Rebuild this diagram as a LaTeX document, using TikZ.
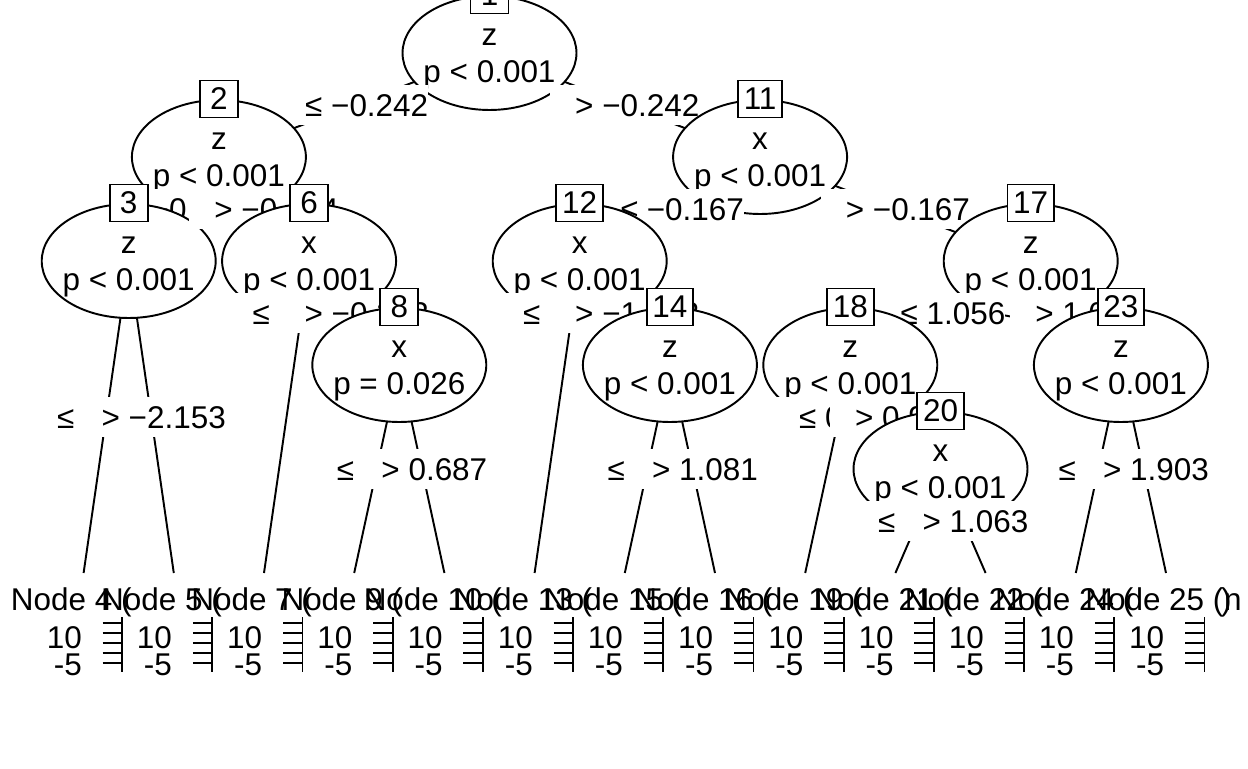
\documentclass[tikz,border=0pt]{standalone}
\usepackage{fontspec}
\setmainfont{Liberation Sans}
\usetikzlibrary{calc,shapes.geometric}

\tikzset{
  splitshape/.style={draw, ellipse, fill=white, line width=1.1pt, inner sep=0pt,
    minimum width=3.48cm, minimum height=2.28cm},
  nodeid/.style={draw, fill=white, line width=1.1pt, inner xsep=0.115cm, inner ysep=0pt,
    minimum width=0.76cm, minimum height=0.74cm},
  cutlabel/.style={fill=white, inner sep=0pt, text height=0.62cm, text depth=0.18cm},
  branch/.style={line width=1.1pt},
  nodetitle/.style={anchor=base west, inner sep=0pt},
  ticklab/.style={anchor=base east, inner sep=0pt}
}

% split node: name, variable, p-value, id
\newcommand{\splitnode}[4]{%
  \node[splitshape] (n#1) at (c#1) {};
  \node[anchor=base, inner sep=0pt] (v#1) at ($(c#1)+(0,-8)$) {#2};
  \node[anchor=base, inner sep=0pt] (p#1) at ($(c#1)+(0,29)$) {#3};
  \node[nodeid] (id#1) at ($(c#1)+(0,-58)$) {#4};
}

\begin{document}
\begin{tikzpicture}[x=0.02cm, y=-0.02cm, font=\fontsize{17.9}{21.5}\selectfont]
  \useasboundingbox (0,0) rectangle (1248,768);

  % centres of the split nodes
  \coordinate (c1) at (489.5,53);
  \coordinate (c2) at (218.9,157);
  \coordinate (c3) at (128.7,261);
  \coordinate (c6) at (309.1,261);
  \coordinate (c8) at (399.3,365);
  \coordinate (c11) at (760.1,157);
  \coordinate (c12) at (579.7,261);
  \coordinate (c14) at (669.9,365);
  \coordinate (c17) at (1030.7,261);
  \coordinate (c18) at (850.3,365);
  \coordinate (c20) at (940.5,469);
  \coordinate (c23) at (1120.9,365);
  % tops of the terminal panels
  \foreach \k [count=\i from 0] in {4,5,7,9,10,13,15,16,19,21,22,24,25}
    \coordinate (t\k) at ({83.6+90.2*\i},573);

  % Nodo 1
  \draw[branch] (c1) -- (c2);
  \draw[branch] (c1) -- (c11);
  \splitnode{1}{z}{p < 0.001}{1}
  \node[cutlabel] (l1a) at ($(c1)!0.5!(c2)$) {\hspace*{0.5cm}≤ −0.242};

  % Nodo 2
  \draw[branch] (c2) -- (c3);
  \draw[branch] (c2) -- (c6);
  \splitnode{2}{z}{p < 0.001}{2}
  \node[cutlabel] (l2a) at ($(c2)!0.5!(c3)$) {\hspace*{0.5cm}≤ −0.414};
  \draw[branch] (c3) -- (t4);
  \draw[branch] (c3) -- (t5);
  \splitnode{3}{z}{p < 0.001}{3}
  \node[cutlabel] (l3a) at ($(c3)!0.5!(t4)$) {\hspace*{0.5cm}≤ −2.153};
  \node[cutlabel] (l3b) at ($(c3)!0.5!(t5)$) {\hspace*{0.5cm}> −2.153};
  \node[cutlabel] (l2b) at ($(c2)!0.5!(c6)$) {\hspace*{0.5cm}> −0.414};
  \draw[branch] (c6) -- (t7);
  \draw[branch] (c6) -- (c8);
  \splitnode{6}{x}{p < 0.001}{6}
  \node[cutlabel] (l6a) at ($(c6)!0.1667!(t7)$) {\hspace*{0.5cm}≤ −0.283};
  \node[cutlabel] (l6b) at ($(c6)!0.5!(c8)$) {\hspace*{0.5cm}> −0.283};
  \draw[branch] (c8) -- (t9);
  \draw[branch] (c8) -- (t10);
  \splitnode{8}{x}{p = 0.026}{8}
  \node[cutlabel] (l8a) at ($(c8)!0.5!(t9)$) {\hspace*{0.5cm}≤ 0.687};
  \node[cutlabel] (l8b) at ($(c8)!0.5!(t10)$) {\hspace*{0.5cm}> 0.687};

  % Nodo 11
  \node[cutlabel] (l1b) at ($(c1)!0.5!(c11)$) {\hspace*{0.5cm}> −0.242};
  \draw[branch] (c11) -- (c12);
  \draw[branch] (c11) -- (c17);
  \splitnode{11}{x}{p < 0.001}{11}
  \node[cutlabel] (l11a) at ($(c11)!0.5!(c12)$) {\hspace*{0.5cm}≤ −0.167};
  \draw[branch] (c12) -- (t13);
  \draw[branch] (c12) -- (c14);
  \splitnode{12}{x}{p < 0.001}{12}
  \node[cutlabel] (l12a) at ($(c12)!0.1667!(t13)$) {\hspace*{0.5cm}≤ −1.123};
  \node[cutlabel] (l12b) at ($(c12)!0.5!(c14)$) {\hspace*{0.5cm}> −1.123};
  \draw[branch] (c14) -- (t15);
  \draw[branch] (c14) -- (t16);
  \splitnode{14}{z}{p < 0.001}{14}
  \node[cutlabel] (l14a) at ($(c14)!0.5!(t15)$) {\hspace*{0.5cm}≤ 1.081};
  \node[cutlabel] (l14b) at ($(c14)!0.5!(t16)$) {\hspace*{0.5cm}> 1.081};
  \node[cutlabel] (l11b) at ($(c11)!0.5!(c17)$) {\hspace*{0.5cm}> −0.167};
  \draw[branch] (c17) -- (c18);
  \draw[branch] (c17) -- (c23);
  \splitnode{17}{z}{p < 0.001}{17}
  \node[cutlabel] (l17a) at ($(c17)!0.5!(c18)$) {\hspace*{0.5cm}≤ 1.056};
  \draw[branch] (c18) -- (t19);
  \draw[branch] (c18) -- (c20);
  \splitnode{18}{z}{p < 0.001}{18}
  \node[cutlabel] (l18a) at ($(c18)!0.25!(t19)$) {\hspace*{0.5cm}≤ 0.963};
  \node[cutlabel] (l18b) at ($(c18)!0.5!(c20)$) {\hspace*{0.5cm}> 0.963};
  \draw[branch] (c20) -- (t21);
  \draw[branch] (c20) -- (t22);
  \splitnode{20}{x}{p < 0.001}{20}
  \node[cutlabel] (l20a) at ($(c20)!0.5!(t21)$) {\hspace*{0.5cm}≤ 1.063};
  \node[cutlabel] (l20b) at ($(c20)!0.5!(t22)$) {\hspace*{0.5cm}> 1.063};
  \node[cutlabel] (l17b) at ($(c17)!0.5!(c23)$) {\hspace*{0.5cm}> 1.056};
  \draw[branch] (c23) -- (t24);
  \draw[branch] (c23) -- (t25);
  \splitnode{23}{z}{p < 0.001}{23}
  \node[cutlabel] (l23a) at ($(c23)!0.5!(t24)$) {\hspace*{0.5cm}≤ 1.903};
  \node[cutlabel] (l23b) at ($(c23)!0.5!(t25)$) {\hspace*{0.5cm}> 1.903};

  % terminal panels
  \foreach \k [count=\i from 0] in {4,5,7,9,10,13,15,16,19,21,22,24,25} {
    \pgfmathsetmacro\tx{83.6+90.2*\i}
    \pgfmathsetmacro\hx{\tx-(\k>9 ? 81 : 73)}
    \node[nodetitle] (h\k) at (\hx,610) {Node \k\ (};
    \draw[branch] (\tx+38.5,617) -- (\tx+38.5,672);
    \foreach \ty in {623,633,643,653,663}
      \draw[branch] (\tx+19,\ty) -- (\tx+38.5,\ty);
    \node[ticklab] at (\tx-1.5,648) {10};
    \node[ticklab] at (\tx-1.5,675) {-5};
  }
  \node[nodetitle] (h25n) at (h25.base east) {n};
  \node[nodetitle] at ($(h25.base east)+(-3,0)$) {)};
\end{tikzpicture}
\end{document}
